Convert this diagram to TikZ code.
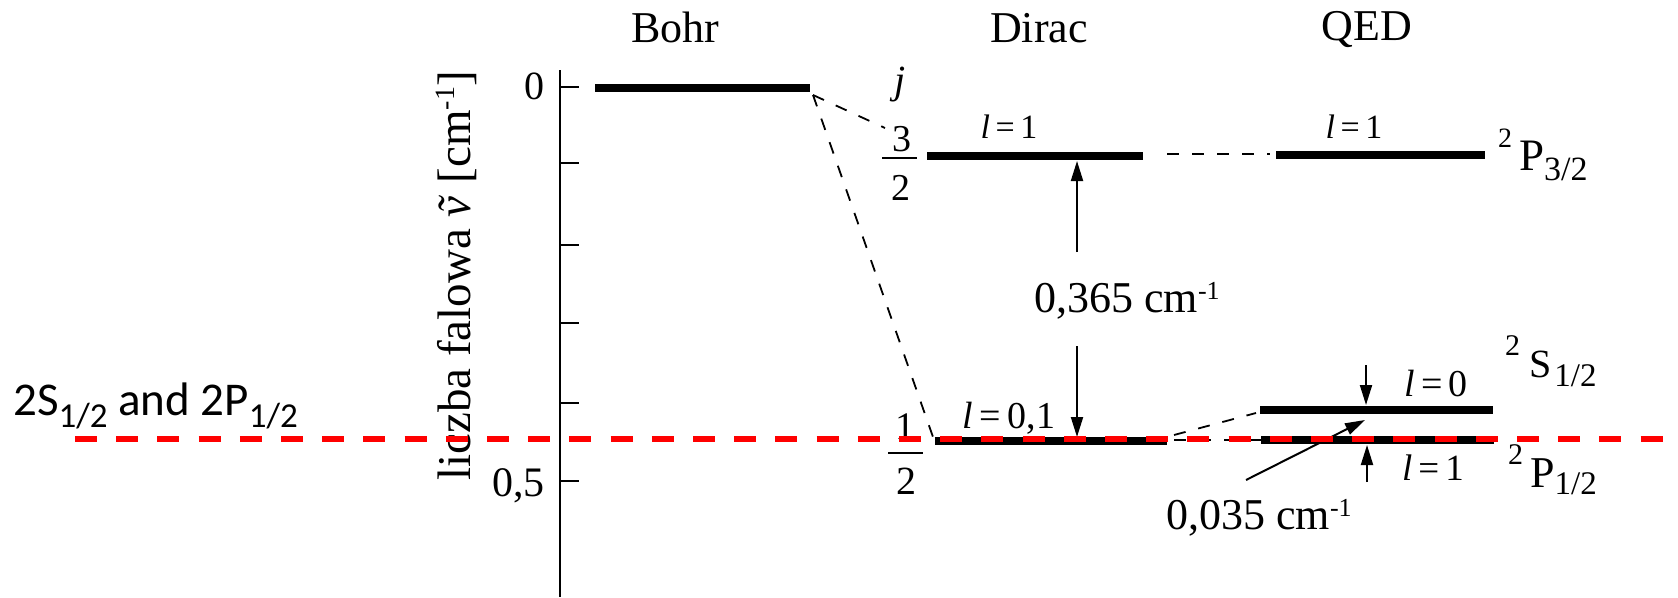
\documentclass[tikz,border=0pt]{standalone}
\usepackage{fontspec}
\setmainfont{Liberation Serif}
\newfontfamily\calib{Carlito}
\usetikzlibrary{arrows.meta}
\newcommand{\fs}[1]{\fontsize{#1}{#1}\selectfont}
\newcommand{\rsup}[3]{\raisebox{#2pt}{\fs{#1}#3}}
\begin{document}
\begin{tikzpicture}[x=1pt,y=-1pt,
  txt/.style={inner sep=0pt, anchor=base},
  level/.style={line width=8.5pt},
  conn/.style={line width=1.8pt, dash pattern=on 12pt off 13pt},
  arr/.style={line width=2pt, -{Triangle[length=20pt,width=12pt]}},
  reddash/.style={draw=red, line width=6pt, dash pattern=on 22pt off 19.2pt},
  axisline/.style={line width=2.6pt}]
\useasboundingbox (0,0) rectangle (1678,597);

% axis
\coordinate (axT) at (560,70);
\coordinate (axB) at (560,597);
\draw[axisline] (axT) -- (axB);
\foreach \yy in {87,163,245,323,403,481} \draw[axisline] (560,\yy) -- (579,\yy);
\node[txt, anchor=base east] (l0) at (545,99) {\fs{40}0};
\node[txt, anchor=base east] (l05) at (545,496) {\fs{42}0,5};
\node[txt, rotate=90] (ylab) at (470,276) {\fs{47}liczba falowa \textit{\~{v}} [cm\rsup{28}{16}{-1}]};

% titles
\node[txt] (tBohr) at (675,42) {\fs{44}Bohr};
\node[txt] (tDirac) at (1039,42) {\fs{44}Dirac};
\node[txt] (tQED) at (1367,40) {\fs{44}QED};

% level end points
\coordinate (bohrL) at (595,88);
\coordinate (bohrR) at (810,88);
\coordinate (bohrC) at (813,95);
\coordinate (dP3L) at (927,156);
\coordinate (dP3R) at (1143,156);
\coordinate (qP3L) at (1276,155);
\coordinate (qP3R) at (1485,155);
\coordinate (dHL) at (935,441);
\coordinate (dHR) at (1167,441);
\coordinate (qSL) at (1260,410);
\coordinate (qSR) at (1493,410);
\coordinate (qPL) at (1261,440);
\coordinate (qPR) at (1494,440);

\draw[level] (bohrL) -- (bohrR);
\draw[level] (dP3L) -- (dP3R);
\draw[level] (qP3L) -- (qP3R);
\draw[level] (dHL) -- (dHR);
\draw[level] (qSL) -- (qSR);
\draw[level] (qPL) -- (qPR);

% j and fractions
\node[txt] (jl) at (900,93) {\fs{40}\textit{j}};
\node[txt] (n3) at (902,151) {\fs{38}3};
\node[txt] (d3) at (901,200) {\fs{38}2};
\coordinate (b3L) at (882,158);
\coordinate (b3R) at (917,158);
\draw[line width=2pt] (b3L) -- (b3R);
\node[txt] (n1) at (905,439) {\fs{39}1};
\node[txt] (d1) at (906,494) {\fs{40}2};
\coordinate (b1L) at (888,453);
\coordinate (b1R) at (923,453);
\draw[line width=2pt] (b1L) -- (b1R);

% dashed correlation lines
\coordinate (c32) at (885,128);
\coordinate (c12) at (933,437);
\draw[conn] (bohrC) -- (c32);
\draw[conn] (bohrC) -- (c12);
\coordinate (m1a) at (1167,154);
\coordinate (m1b) at (1270,154);
\draw[conn] (m1a) -- (m1b);
\coordinate (m2a) at (1174,435);
\coordinate (m2b) at (1256,413);
\draw[conn] (m2a) -- (m2b);
\coordinate (m3a) at (1174,440);
\coordinate (m3b) at (1261,440);
\draw[conn] (m3a) -- (m3b);

% l labels
\node[txt] (lD1) at (1009,138) {\fs{34}\textit{l}\,=\,1};
\node[txt] (lQ1) at (1354,138) {\fs{34}\textit{l}\,=\,1};
\node[txt] (lD01) at (1009,428) {\fs{38}\textit{l}\,=\,0,1};
\node[txt] (lQ0) at (1436,396) {\fs{38}\textit{l}\,=\,0};
\node[txt] (lQ1b) at (1433,480) {\fs{37}\textit{l}\,=\,1};

% term labels
\node[txt, anchor=base west] (tP32) at (1498,170) {\rsup{28}{23}{2}\hspace{7pt}\fs{45}P\rsup{34}{-10}{3/2}};
\node[txt, anchor=base west] (tS12) at (1505,377) {\rsup{30}{22}{2}\hspace{9pt}\fs{40}S\hspace{3pt}\rsup{33}{-9}{1/2}};
\node[txt, anchor=base west] (tP12) at (1508,487) {\rsup{30}{23}{2}\hspace{7pt}\fs{44}P\rsup{33}{-7}{1/2}};

% Lamb shift / fine structure arrows
\coordinate (a1s) at (1077,252);
\coordinate (a1e) at (1077,161);
\coordinate (a2s) at (1077,346);
\coordinate (a2e) at (1077,437);
\draw[arr] (a1s) -- (a1e);
\draw[arr] (a2s) -- (a2e);
\node[txt] (d365) at (1127,312) {\fs{44}0,365 cm\rsup{26}{13}{-1}};

\coordinate (a3s) at (1366,365);
\coordinate (a3e) at (1366,405);
\coordinate (a4s) at (1367,482);
\coordinate (a4e) at (1367,445);
\coordinate (a5s) at (1246,480);
\coordinate (a5e) at (1365,420);
\draw[arr] (a3s) -- (a3e);
\draw[arr] (a4s) -- (a4e);
\draw[arr] (a5s) -- (a5e);
\node[txt] (d035) at (1259,529) {\fs{44}0,035 cm\rsup{26}{13}{-1}};

% red overlay
\node[txt, anchor=base west] (lbl) at (13,415) {\calib\fs{47}2S\raisebox{-12pt}{\fs{35}1/2} and 2P\raisebox{-12pt}{\fs{35}1/2}};
\coordinate (rL) at (75,439);
\coordinate (rR) at (1678,439);
\draw[reddash] (rL) -- (rR);
\end{tikzpicture}
\end{document}
